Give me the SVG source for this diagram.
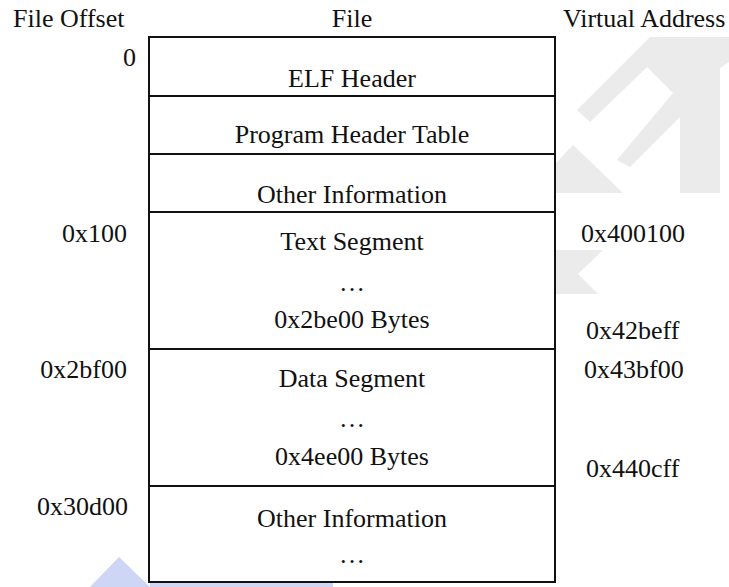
<svg xmlns="http://www.w3.org/2000/svg" width="729" height="587" viewBox="0 0 729 587">
<style>
  text { font-family: "Liberation Serif", "Times New Roman", serif; font-size: 26px; fill: #111; }
  .c { text-anchor: middle; }
  .r { text-anchor: end; }
  .box { fill: #fff; stroke: #111; stroke-width: 2; }
  .sep { stroke: #111; stroke-width: 2.2; fill: none; }
  .wm { fill: #ebebeb; }
  .wb { fill: #cdd6f4; }
</style>
<rect x="0" y="0" width="729" height="587" fill="#fff"/>
<g id="watermark">
  <polygon class="wm" points="577,110 650,37 729,37 729,62 720,68 720,193 680,193 680,117 630,167 617,160 673,93 647,67 590,122"/>
  <polygon class="wm" points="556,163 573,145 623,193 556,193"/>
  <polygon class="wm" points="556,250 603,250 578,274 598,294 556,294"/>
  <polygon class="wb" points="119,557 150,587 90,587"/>
  <rect class="wb" x="150" y="583" width="183" height="4"/>
</g>
<g id="headers">
  <text x="13" y="27">File Offset</text>
  <text class="c" x="352" y="27">File</text>
  <text x="563" y="27">Virtual Address</text>
</g>
<g id="file">
  <rect class="box" x="149" y="37" width="406" height="545"/>
</g>
<g id="connectors">
  <line class="sep" x1="149" y1="96" x2="555" y2="96"/>
  <line class="sep" x1="149" y1="154" x2="555" y2="154"/>
  <line class="sep" x1="149" y1="212" x2="555" y2="212"/>
  <line class="sep" x1="149" y1="349" x2="555" y2="349"/>
  <line class="sep" x1="149" y1="486" x2="555" y2="486"/>
</g>
<g id="elf-header">
  <text class="r" x="136" y="66">0</text>
  <text class="c" x="352" y="87">ELF Header</text>
</g>
<g id="program-header-table">
  <text class="c" x="352" y="143">Program Header Table</text>
</g>
<g id="other-information-1">
  <text class="c" x="352" y="203">Other Information</text>
</g>
<g id="text-segment">
  <text class="r" x="127" y="242">0x100</text>
  <text x="581" y="242">0x400100</text>
  <text class="c" x="352" y="250">Text Segment</text>
  <text class="c" x="352" y="291">…</text>
  <text class="c" x="352" y="328">0x2be00 Bytes</text>
  <text x="586" y="339">0x42beff</text>
</g>
<g id="data-segment">
  <text class="r" x="127" y="378">0x2bf00</text>
  <text x="584" y="378">0x43bf00</text>
  <text class="c" x="352" y="387">Data Segment</text>
  <text class="c" x="352" y="427">…</text>
  <text class="c" x="352" y="465">0x4ee00 Bytes</text>
  <text x="586" y="477">0x440cff</text>
</g>
<g id="other-information-2">
  <text class="r" x="128" y="515">0x30d00</text>
  <text class="c" x="352" y="527">Other Information</text>
  <text class="c" x="352" y="563">…</text>
</g>
</svg>
